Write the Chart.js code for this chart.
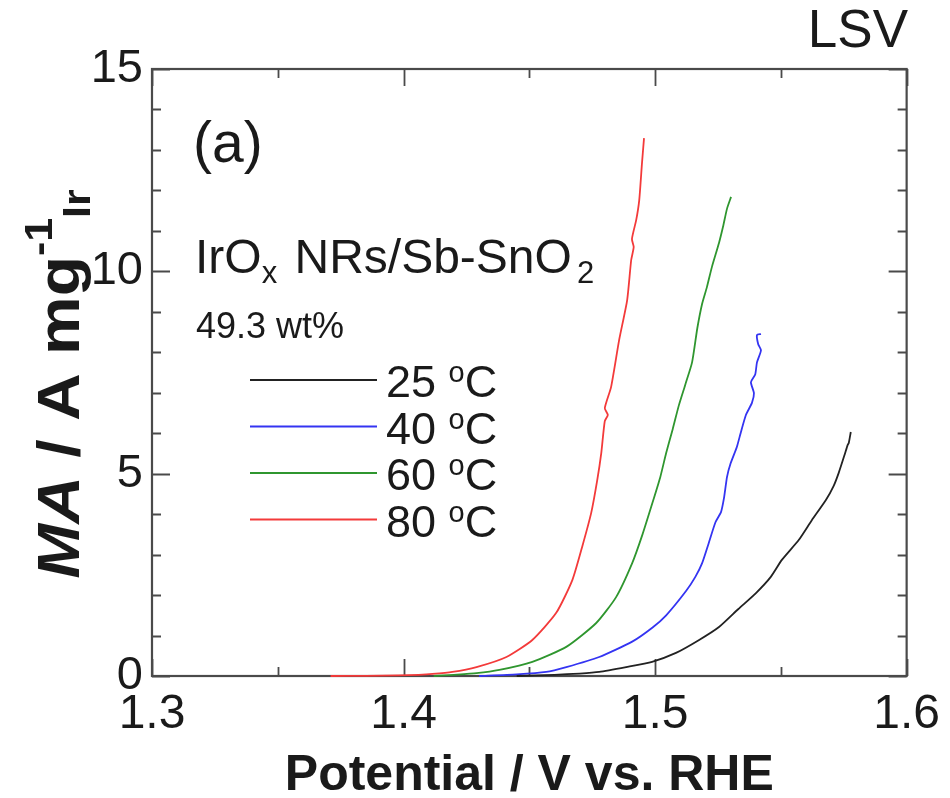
<!DOCTYPE html>
<html><head><meta charset="utf-8">
<script src="https://cdn.jsdelivr.net/npm/chart.js@4.4.1/dist/chart.umd.min.js"></script>
<style>html,body{margin:0;padding:0;background:#fff;}canvas{display:block;}</style>
</head><body>
<canvas id="c" width="950" height="798" style="width:950px;height:798px"></canvas>
<script>
// ---- data ----
const temperatures = [25, 40, 60, 80];
const seriesColors = ['#222222', '#3434f2', '#2f962f', '#f33a3a'];

const x25 = [1.445, 1.460, 1.470, 1.4778, 1.4885, 1.4988, 1.5083, 1.5175, 1.5254, 1.5330, 1.5401, 1.5460, 1.5504, 1.5571, 1.5623, 1.5679, 1.5710, 1.5730, 1.5755, 1.5765, 1.5770, 1.5778];
const y25 = [0, 0.03, 0.06, 0.10, 0.22, 0.35, 0.57, 0.89, 1.21, 1.65, 2.05, 2.45, 2.87, 3.36, 3.85, 4.35, 4.70, 5.02, 5.50, 5.70, 5.76, 6.03];

const x40 = [1.430, 1.445, 1.4567, 1.4647, 1.4778, 1.4909, 1.4990, 1.5044, 1.5123, 1.5160, 1.5187, 1.5214, 1.5240, 1.5262, 1.5274, 1.5286, 1.5300, 1.5325, 1.5340, 1.5361, 1.5385, 1.5393, 1.5381, 1.5398, 1.5405, 1.5421, 1.5410, 1.5405, 1.5421];
const y40 = [0, 0.04, 0.10, 0.22, 0.47, 0.85, 1.20, 1.50, 2.10, 2.45, 2.79, 3.30, 3.80, 4.05, 4.40, 4.92, 5.25, 5.66, 6.00, 6.45, 6.75, 6.99, 7.26, 7.45, 7.75, 8.05, 8.20, 8.43, 8.45];

const x60 = [1.412, 1.420, 1.4290, 1.4381, 1.4512, 1.4647, 1.4766, 1.4845, 1.4909, 1.4950, 1.4988, 1.5020, 1.5044, 1.5070, 1.5095, 1.5120, 1.5147, 1.5168, 1.5187, 1.5206, 1.5226, 1.5254, 1.5270, 1.5286, 1.5302];
const y60 = [0, 0.03, 0.07, 0.15, 0.35, 0.72, 1.31, 1.95, 2.79, 3.50, 4.25, 4.90, 5.51, 6.10, 6.70, 7.20, 7.75, 8.60, 9.20, 9.61, 10.11, 10.70, 11.10, 11.55, 11.84];

const x80 = [1.371, 1.385, 1.398, 1.406, 1.4115, 1.4194, 1.4290, 1.4409, 1.4512, 1.4607, 1.4671, 1.4710, 1.4746, 1.4770, 1.4786, 1.4800, 1.4812, 1.4800, 1.4825, 1.4857, 1.4889, 1.4905, 1.4915, 1.4908, 1.4925, 1.4937, 1.4948, 1.4956];
const y80 = [0, 0.005, 0.015, 0.03, 0.05, 0.10, 0.22, 0.47, 0.89, 1.56, 2.37, 3.19, 4.03, 4.84, 5.51, 6.30, 6.45, 6.62, 7.14, 8.30, 9.29, 10.28, 10.60, 10.80, 11.27, 11.76, 12.68, 13.29];

const xSeries = [x25, x40, x60, x80];
const ySeries = [y25, y40, y60, y80];

const xMin = 1.3, xMax = 1.6, xStep = 0.1, xMinorStep = 0.05;
const yMin = 0, yMax = 15, yStep = 5, yMinorStep = 1;

const FONT = "'Liberation Sans', Arial, Helvetica, sans-serif";
const TXT = '#1a1a1a';

function drawRich(ctx, x, y, parts, align) {
  let w = 0;
  for (const p of parts) {
    ctx.font = `${p.style || 'normal'} ${p.weight || 'normal'} ${p.size}px ${FONT}`;
    p.w = ctx.measureText(p.t).width + (p.gap || 0);
    w += p.w;
  }
  let cx = align === 'center' ? x - w / 2 : (align === 'right' ? x - w : x);
  ctx.textAlign = 'left';
  ctx.textBaseline = 'alphabetic';
  for (const p of parts) {
    ctx.font = `${p.style || 'normal'} ${p.weight || 'normal'} ${p.size}px ${FONT}`;
    ctx.fillText(p.t, cx, y + (p.dy || 0));
    cx += p.w;
  }
}

const framePlugin = {
  id: 'frame',
  beforeDatasetsDraw(chart) {
    const {ctx, chartArea: a, scales: {x, y}} = chart;
    ctx.save();
    ctx.strokeStyle = '#4a4a4a';
    ctx.lineWidth = 2.2;
    ctx.strokeRect(a.left, a.top, a.right - a.left, a.bottom - a.top);
    ctx.lineWidth = 1.8;
    ctx.beginPath();
    const nx = Math.round((xMax - xMin) / xMinorStep);
    for (let i = 0; i <= nx; i++) {
      const v = xMin + i * xMinorStep;
      const px = Math.round(x.getPixelForValue(v)) + 0.5;
      const len = (i % 2 === 0) ? 17 : 9;
      ctx.moveTo(px, a.bottom); ctx.lineTo(px, a.bottom - len);
      ctx.moveTo(px, a.top); ctx.lineTo(px, a.top + len);
    }
    const ny = Math.round((yMax - yMin) / yMinorStep);
    for (let i = 0; i <= ny; i++) {
      const v = yMin + i * yMinorStep;
      const py = Math.round(y.getPixelForValue(v)) + 0.5;
      const len = (i % 5 === 0) ? 18 : 9;
      ctx.moveTo(a.left, py); ctx.lineTo(a.left + len, py);
      ctx.moveTo(a.right, py); ctx.lineTo(a.right - len, py);
    }
    ctx.stroke();
    ctx.restore();
  },
  afterDraw(chart) {
    const {ctx, chartArea: a} = chart;
    ctx.save();
    ctx.fillStyle = TXT;
    drawRich(ctx, 908, 47, [{t: 'LSV', size: 53}], 'right');
    drawRich(ctx, 193, 162, [{t: '(a)', size: 57}], 'left');
    drawRich(ctx, 195, 273, [
      {t: 'IrO', size: 48},
      {t: 'x', size: 31, dy: 10, gap: 4},
      {t: ' NRs/Sb-SnO', size: 48, gap: 5},
      {t: '2', size: 31, dy: 10}
    ], 'left');
    drawRich(ctx, 196, 338, [{t: '49.3 wt%', size: 36}], 'left');
    for (let i = 0; i < temperatures.length; i++) {
      const ly = 380 + i * 46.5;
      ctx.strokeStyle = seriesColors[i];
      ctx.lineWidth = 2;
      ctx.beginPath();
      ctx.moveTo(250, ly); ctx.lineTo(377, ly);
      ctx.stroke();
      drawRich(ctx, 386, ly + 17, [
        {t: temperatures[i] + ' ', size: 45},
        {t: 'o', size: 29, dy: -15},
        {t: 'C', size: 45}
      ], 'left');
    }
    drawRich(ctx, (a.left + a.right) / 2, 790, [{t: 'Potential / V vs. RHE', size: 50, weight: 'bold'}], 'center');
    // y title (rotated)
    ctx.translate(79, 384);
    ctx.rotate(-Math.PI / 2);
    ctx.scale(1.1, 1);
    drawRich(ctx, 0, 0, [
      {t: 'MA', size: 60, weight: 'bold', style: 'italic'},
      {t: ' / A mg', size: 60, weight: 'bold'},
      {t: '-1', size: 39, weight: 'bold', dy: -27},
      {t: 'Ir', size: 39, weight: 'bold', dy: 11}
    ], 'center');
    ctx.restore();
  }
};

const datasets = temperatures.map((t, i) => ({
  label: t + ' °C',
  data: xSeries[i].map((xv, j) => ({x: xv, y: ySeries[i][j]})),
  borderColor: seriesColors[i],
  backgroundColor: seriesColors[i],
  borderWidth: 1.8,
  pointRadius: 0,
  showLine: true,
  tension: 0.2,
  clip: 6
}));

new Chart(document.getElementById('c'), {
  type: 'scatter',
  data: {datasets},
  options: {
    responsive: false,
    animation: false,
    devicePixelRatio: 1,
    layout: {padding: {left: 0, right: 42, top: 69, bottom: 0}},
    plugins: {legend: {display: false}, tooltip: {enabled: false}},
    scales: {
      x: {
        type: 'linear', min: xMin, max: xMax,
        grid: {display: false, drawTicks: false},
        border: {display: false},
        ticks: {
          stepSize: xStep, padding: 10, color: TXT,
          font: {family: FONT, size: 48},
          maxRotation: 0, autoSkip: false,
          callback: v => Number(v).toFixed(1)
        },
        afterFit: s => { s.height = 122; }
      },
      y: {
        type: 'linear', min: yMin, max: yMax,
        grid: {display: false, drawTicks: false},
        border: {display: false},
        ticks: {
          stepSize: yStep, padding: 9, color: TXT,
          font: {family: FONT, size: 47},
          callback: v => String(v)
        },
        afterFit: s => { s.width = 152; }
      }
    }
  },
  plugins: [framePlugin]
});
</script>
</body></html>
